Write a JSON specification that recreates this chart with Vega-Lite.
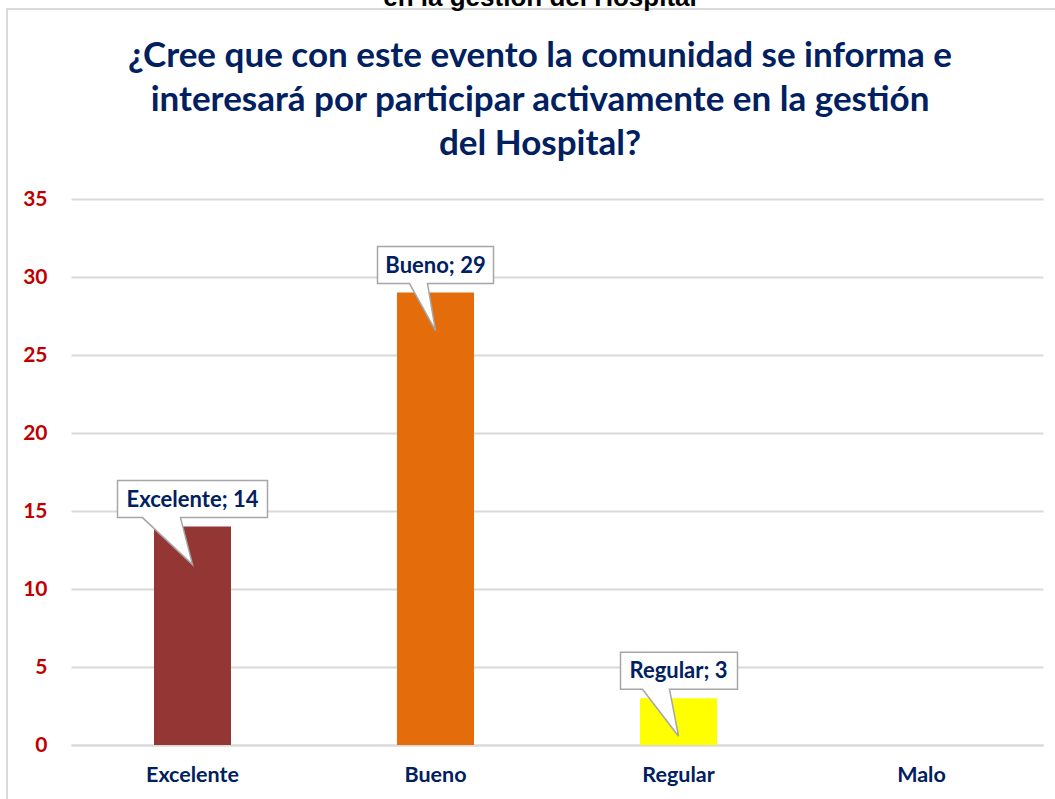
{
  "$schema": "https://vega.github.io/schema/vega-lite/v6.json",
  "width": 972,
  "height": 546,
  "autosize": "none",
  "padding": {"left": 71, "top": 199, "right": 12, "bottom": 54},
  "background": "white",
  "config": {"view": {"stroke": null}, "font": "Lato"},
  "title": {
    "text": "en la gestión del Hospital",
    "font": "Liberation Sans",
    "fontSize": 26,
    "fontWeight": "bold",
    "color": "#000000",
    "subtitle": ["¿Cree que con este evento la comunidad se informa e", "interesará por participar activamente en la gestión", "del Hospital?"],
    "subtitleFont": "Lato",
    "subtitleFontSize": 35,
    "subtitleFontWeight": "bold",
    "subtitleColor": "#002060",
    "subtitleLineHeight": 44,
    "subtitlePadding": 28,
    "anchor": "middle",
    "dx": -17,
    "offset": -154
  },
  "data": {
    "values": [
      {"cat": "Excelente", "value": 14, "label": "Excelente; 14"},
      {"cat": "Bueno", "value": 29, "label": "Bueno; 29"},
      {"cat": "Regular", "value": 3, "label": "Regular; 3"},
      {"cat": "Malo", "value": 0, "label": ""}
    ]
  },
  "resolve": {"scale": {"x": "independent"}},
  "layer": [
    {
      "data": {"values": [{"left": -0.0658, "right": 1.0226, "top": 47.18, "bottom": -4}]},
      "mark": {"type": "rect", "filled": false, "stroke": "#D9D9D9", "strokeWidth": 2, "clip": false},
      "encoding": {
        "x": {"field": "left", "type": "quantitative", "scale": {"domain": [0, 1]}, "axis": null},
        "x2": {"field": "right"},
        "y": {"field": "top", "type": "quantitative"},
        "y2": {"field": "bottom"}
      }
    },
    {
      "layer": [
        {
          "mark": {"type": "bar"},
          "encoding": {
            "x": {
              "field": "cat", "type": "nominal", "sort": null,
              "scale": {"paddingInner": 0.683, "paddingOuter": 0.3415},
              "axis": {"labelAngle": 0, "title": null, "ticks": false, "domainColor": "#D9D9D9", "domainWidth": 2, "labelFont": "Lato", "labelFontSize": 21.5, "labelFontWeight": "bold", "labelColor": "#002060", "labelPadding": 19}
            },
            "y": {
              "field": "value", "type": "quantitative",
              "scale": {"domain": [0, 35]},
              "axis": {"values": [0, 5, 10, 15, 20, 25, 30, 35], "title": null, "ticks": false, "domain": false, "gridColor": "#D9D9D9", "gridWidth": 2, "labelColor": "#C00000", "labelFont": "Lato", "labelFontSize": 21, "labelFontWeight": "bold", "labelPadding": 24}
            },
            "color": {
              "field": "cat", "type": "nominal",
              "scale": {"domain": ["Excelente", "Bueno", "Regular", "Malo"], "range": ["#943634", "#E46C0A", "#FFFF00", "#4F81BD"]},
              "legend": null
            }
          }
        },
        {
          "transform": [{"filter": "datum.value > 0"}],
          "mark": {"type": "point", "filled": true, "fill": "white", "stroke": "#A6A6A6", "strokeWidth": 1.5, "size": 4, "opacity": 1, "clip": false},
          "encoding": {
            "x": {"field": "cat", "type": "nominal", "sort": null},
            "y": {"field": "value", "type": "quantitative"},
            "shape": {
              "field": "cat", "type": "nominal",
              "scale": {
                "domain": ["Excelente", "Bueno", "Regular"],
                "range": [
                  "M-75,-46 L75,-46 L75,-9 L-12,-9 L0,38 L-50,-9 L-75,-9 Z",
                  "M-58,-46 L58,-46 L58,-9 L-8,-9 L0,38 L-26,-9 L-58,-9 Z",
                  "M-58,-46 L59,-46 L59,-9 L-9,-9 L0,38 L-36,-9 L-58,-9 Z"
                ]
              },
              "legend": null
            }
          }
        },
        {
          "transform": [{"filter": "datum.value > 0"}],
          "mark": {"type": "text", "font": "Lato", "fontSize": 22, "fontWeight": "bold", "color": "#002060", "baseline": "middle", "align": "center", "dy": -27},
          "encoding": {
            "x": {"field": "cat", "type": "nominal", "sort": null},
            "y": {"field": "value", "type": "quantitative"},
            "text": {"field": "label"}
          }
        }
      ]
    }
  ]
}
